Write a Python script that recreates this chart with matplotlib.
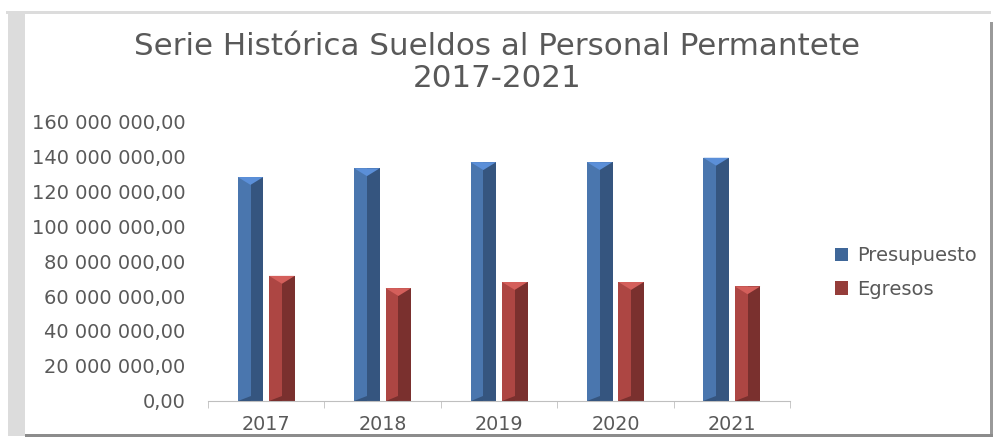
import matplotlib.pyplot as plt
import numpy as np
from matplotlib.patches import Rectangle, Patch

years = ['2017', '2018', '2019', '2020', '2021']
presupuesto = [128_000_000, 133_000_000, 136_500_000, 136_500_000, 139_000_000]
egresos = [71_500_000, 64_500_000, 68_000_000, 68_000_000, 65_500_000]
yticks = [0, 20e6, 40e6, 60e6, 80e6, 100e6, 120e6, 140e6, 160e6]

plt.rcParams['font.family'] = ['DejaVu Sans']
txt = '#595959'

fig = plt.figure(figsize=(9.94, 4.38), dpi=100)
ax = fig.add_axes([0.2093, 0.0845, 0.5855, 0.6392])

# frame around the chart
fig.patches.append(Rectangle((8 / 994, 2 / 438), 17 / 994, 424 / 438, transform=fig.transFigure,
                             facecolor='#dcdcdc', edgecolor='none'))
fig.patches.append(Rectangle((6 / 994, 424 / 438), 985 / 994, 3 / 438, transform=fig.transFigure,
                             facecolor='#dcdcdc', edgecolor='none'))
fig.patches.append(Rectangle((990 / 994, 2 / 438), 3 / 994, 414 / 438, transform=fig.transFigure,
                             facecolor='#9a9a9a', edgecolor='none'))
fig.patches.append(Rectangle((25 / 994, 1 / 438), 968 / 994, 3 / 438, transform=fig.transFigure,
                             facecolor='#8c8c8c', edgecolor='none'))

x = np.arange(len(years))
w = 0.22
off = 0.135


def bevel_bar(xc, vals, light, dark, top):
    ax.bar(xc - w / 4, vals, w / 2, color=light, edgecolor='none', zorder=2)
    ax.bar(xc + w / 4, vals, w / 2, color=dark, edgecolor='none', zorder=2)
    d = 4.5e6
    for xi, v in zip(xc, vals):
        ax.fill([xi - w / 2, xi + w / 2, xi], [v, v, v - d], color=top, lw=0, zorder=3)
        ax.fill([xi - w / 2, xi, xi], [0, 0, d * 0.6], color=dark, lw=0, zorder=3)


bevel_bar(x - off, presupuesto, '#4a76ae', '#35557f', '#5b8fd8')
bevel_bar(x + off, egresos, '#ad4643', '#7a302e', '#d45f5b')

ax.set_xlim(-0.5, len(years) - 0.5)
ax.set_ylim(0, 160e6)
ax.set_yticks(yticks)
ax.set_yticklabels([f'{v:,.2f}'.replace(',', ' ').replace('.', ',') for v in yticks],
                   fontsize=14, color=txt)
ax.set_xticks(x)
ax.set_xticklabels(years, fontsize=13.8, color=txt)
ax.set_xticks(np.arange(len(years) + 1) - 0.5, minor=True)
ax.tick_params(axis='x', which='major', length=0, pad=10)
ax.tick_params(axis='x', which='minor', length=5, color='#bfbfbf')
ax.tick_params(axis='y', length=0, pad=16.5)
for s in ['top', 'right', 'left']:
    ax.spines[s].set_visible(False)
ax.spines['bottom'].set_color('#bfbfbf')

fig.text(0.5, 0.857, 'Serie Histórica Sueldos al Personal Permantete\n2017-2021',
         ha='center', va='center', fontsize=22.3, color=txt, linespacing=1.1)

handles = [Patch(facecolor='#3f6799', edgecolor='none'),
           Patch(facecolor='#953d3a', edgecolor='none')]
fig.legend(handles, ['Presupuesto', 'Egresos'], loc='center left',
           bbox_to_anchor=(0.822, 0.378), frameon=False, fontsize=14,
           labelcolor=txt, handlelength=0.7, handleheight=0.7, handletextpad=0.45,
           labelspacing=0.75)

plt.savefig('out.png', dpi=100)
